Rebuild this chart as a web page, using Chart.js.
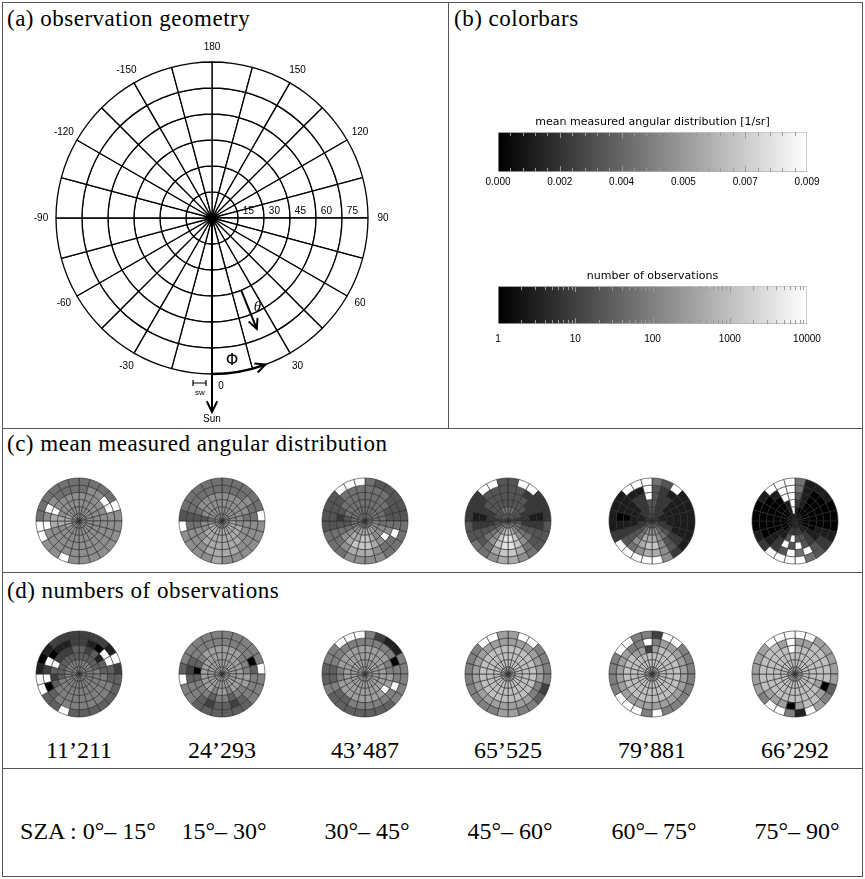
<!DOCTYPE html>
<html>
<head>
<meta charset="utf-8">
<title>Observation geometry and angular distributions</title>
<script src="https://cdn.jsdelivr.net/npm/chart.js@4.4.1/dist/chart.umd.min.js"></script>
<style>
  body { margin: 0; background: #fff; }
  #page { position: relative; width: 865px; height: 879px; overflow: hidden;
          font-family: "Liberation Serif", "DejaVu Serif", serif; color: #000; }
  .rule { position: absolute; background: #555; }
  .label { position: absolute; white-space: nowrap; line-height: 1; }
  .title { font-size: 23px; letter-spacing: 0.5px; }
  .big { font-size: 24px; transform: translate(-50%, -50%); }
  canvas { position: absolute; }
</style>
</head>
<body>
<div id="page">
  <div class="rule" style="left:2px;top:2px;width:861px;height:1px"></div>
  <div class="rule" style="left:2px;top:876px;width:861px;height:1px"></div>
  <div class="rule" style="left:2px;top:2px;width:1px;height:875px"></div>
  <div class="rule" style="left:862px;top:2px;width:1px;height:875px"></div>
  <div class="rule" style="left:448px;top:2px;width:1px;height:426px"></div>
  <div class="rule" style="left:2px;top:428px;width:861px;height:1px"></div>
  <div class="rule" style="left:2px;top:572px;width:861px;height:1px"></div>
  <div class="rule" style="left:2px;top:768px;width:861px;height:1px"></div>

  <div class="label title" style="left:7px;top:7px">(a) observation geometry</div>
  <div class="label title" style="left:454px;top:7px">(b) colorbars</div>
  <div class="label title" style="left:7px;top:432px">(c) mean measured angular distribution</div>
  <div class="label title" style="left:7px;top:579px">(d) numbers of observations</div>
</div>
<script>
// ---- data ----------------------------------------------------------------
const _ = null; // no observation in this cell (drawn white)

// viewing zenith rings (outer edge, deg) and their labels
const zenithRings = [90, 75, 60, 45, 30, 15];
const zenithLabels = ['15', '30', '45', '60', '75'];
const azimuthLabels = [180, 150, 120, 90, 60, 30, 0, -30, -60, -90, -120, -150];
const sectorWidthDeg = 15;      // azimuth bin width

// solar zenith angle bins and number of observations in each
const szaBins = [[0, 15], [15, 30], [30, 45], [45, 60], [60, 75], [75, 90]];
const obsTotals = [11211, 24293, 43487, 65525, 79881, 66292];

// colorbar ranges
const meanDistRange = [0, 0.009];
const obsRange = [1, 10000];

// (c) mean measured angular distribution, units of 0.001 1/sr
// rows: rings 75-90, 60-75, ... 0-15 ; columns: 15 deg sectors clockwise from 180
const meanDistSza00 = [
  [4,4,4,4,_,5, 5,5,5,5,5,5, 5,_,5,5,_,_, 4,4,4,4,4,4],
  [4,5,5,_,_,5, 5,5,5,5,5,5, 5,5,5,5,5,_, 5,_,5,4,4,4],
  [5,5,5,5,5,5, 5,5,5,5,5,5, 5,5,5,5,5,6, 6,_,5,5,5,5],
  [5,5,5,5,5,5, 5,5,5,5,5,5, 5,5,5,5,5,6, 6,5,5,5,5,5],
  [5,5,5,5,5,5, 5,5,5,5,5,5, 5,5,5,5,6,6, 6,6,5,5,5,5],
  [6,6,6,6,6,6, 6,6,6,6,6,6, 6,6,6,6,6,6, 6,6,6,6,6,6]
];
const meanDistSza15 = [
  [4,4,4,4,4,_, 5,5,5,5,5,5, 6,5,5,5,5,_, 3,4,4,4,4,4],
  [4,4,4,5,4,4, 5,5,5,5,6,6, 6,6,5,5,5,4, 3,4,4,4,4,4],
  [5,5,5,5,5,4, 5,5,5,6,6,6, 6,6,6,5,5,4, 3,4,5,5,5,5],
  [5,5,5,5,5,5, 5,6,6,6,6,6, 6,6,6,6,5,5, 3,5,5,5,5,5],
  [5,5,5,5,5,5, 6,6,6,6,6,6, 6,6,6,6,6,5, 4,5,5,5,5,5],
  [6,6,6,6,6,6, 6,6,6,6,6,6, 6,6,6,6,6,6, 6,6,6,6,6,6]
];
const meanDistSza30 = [
  [4,3,3,3,3,3, 4,4,4,4,5,5, 5,5,4,4,4,3, 3,3,3,_,_,_],
  [4,4,4,3,3,3, 4,_,4,4,5,6, 6,6,5,4,4,3, 3,3,3,4,4,4],
  [4,4,4,4,3,3, 4,5,_,5,6,7, 7,7,6,5,4,3, 2,3,4,4,4,4],
  [4,4,4,4,4,4, 4,5,5,5,6,7, 7,6,6,5,4,3, 3,4,4,4,4,4],
  [4,4,4,4,4,4, 5,5,5,6,6,6, 6,6,5,5,4,4, 4,4,4,4,4,4],
  [5,5,5,5,5,5, 5,5,5,5,5,5, 5,5,5,5,5,5, 5,5,5,5,5,5]
];
const meanDistSza45 = [
  [3,_,_,2,2,2, 3,3,3,4,5,6, 6,5,4,4,3,3, 2,2,2,_,_,3],
  [3,3,2,2,2,1, 2,3,3,4,6,7, 7,6,4,3,3,2, 1,2,2,3,3,3],
  [3,3,3,2,2,1, 2,3,4,5,7,8, 8,7,5,4,3,2, 1,2,3,3,3,3],
  [3,3,3,3,2,2, 2,3,4,5,7,8, 8,7,5,4,3,2, 2,2,3,3,3,3],
  [4,4,3,3,3,2, 3,4,4,5,6,7, 7,6,5,4,3,3, 2,3,3,3,4,4],
  [4,4,4,4,3,3, 3,4,5,5,6,6, 6,6,5,5,4,3, 3,3,4,4,4,4]
];
const meanDistSza60 = [
  [4,3,_,1,1,1, 1,1,1,2,5,_, _,_,_,_,2,1, 1,1,1,_,_,_],
  [3,2,1,1,1,1, 1,1,2,3,5,6, 6,5,4,3,2,1, 0,1,1,1,1,_],
  [3,2,2,1,1,1, 1,1,2,3,5,7, 7,6,5,3,2,1, 0,1,1,2,2,_],
  [3,2,2,1,1,1, 1,2,3,4,5,6, 6,6,4,3,2,1, 1,1,1,2,2,3],
  [3,2,2,2,1,1, 2,2,3,4,5,5, 5,5,4,3,2,2, 1,1,2,2,2,3],
  [3,3,2,2,2,2, 2,3,3,4,4,4, 4,4,4,3,3,2, 2,2,2,3,3,3]
];
const meanDistSza75 = [
  [4,1,1,1,0,0, 0,1,2,3,4,_, _,_,_,2,1,0, 0,0,1,_,_,_],
  [4,1,0,0,0,0, 0,1,2,3,_,4, _,3,2,1,0,0, 0,0,0,1,_,_],
  [3,1,0,0,0,0, 0,1,1,2,3,_, 3,_,2,1,0,0, 0,0,0,0,_,_],
  [2,1,0,0,0,0, 0,0,1,2,3,3, _,3,1,1,0,0, 0,0,0,0,1,_],
  [1,0,0,0,0,0, 0,0,1,1,2,2, 2,2,1,0,0,0, 0,0,0,0,1,_],
  [1,0,0,0,0,0, 0,0,0,1,1,1, 1,1,0,0,0,0, 0,0,0,0,0,1]
];

// (d) number of observations per cell, in half decades: count ~ 10^(level/2)
const obsSza00 = [
  [2,2,2,1,_,2, 3,3,3,3,3,3, 3,_,3,3,_,_, 1,0,1,2,2,2],
  [2,1,0,_,_,3, 3,4,4,4,4,4, 4,4,4,3,0,_, 2,_,0,1,1,2],
  [3,2,3,1,3,3, 4,4,4,4,4,4, 4,4,4,4,3,2, 3,_,2,2,2,3],
  [3,3,3,3,3,4, 4,4,4,4,4,4, 4,4,4,4,4,3, 3,3,3,3,3,3],
  [4,4,4,4,4,4, 4,4,4,4,4,4, 4,4,4,4,4,4, 4,4,4,4,4,4],
  [5,5,5,5,5,5, 5,5,5,5,5,5, 5,5,5,5,5,5, 5,5,5,5,5,5]
];
const obsSza15 = [
  [4,4,4,4,4,_, 4,4,4,3,3,3, 3,3,3,4,4,_, 3,4,4,4,4,4],
  [4,4,4,4,0,3, 4,4,4,3,2,3, 3,2,3,4,4,3, 2,3,4,4,4,4],
  [5,5,5,4,4,4, 5,5,4,4,3,4, 4,3,4,4,4,3, 0,3,4,5,5,5],
  [5,5,5,5,5,5, 5,5,5,5,4,5, 5,4,5,5,5,5, 5,5,5,5,5,5],
  [5,5,5,5,5,5, 5,5,5,5,5,5, 5,5,5,5,5,5, 5,5,5,5,5,5],
  [6,6,6,6,6,6, 6,6,6,6,6,6, 6,6,6,6,6,6, 6,6,6,6,6,6]
];
const obsSza30 = [
  [4,2,1,1,4,4, 4,4,4,3,3,3, 3,3,3,3,4,3, 3,4,4,_,_,_],
  [4,4,4,4,0,4, 4,_,4,4,4,4, 4,4,3,3,4,3, 3,4,4,4,4,4],
  [5,5,5,5,4,4, 5,5,_,5,5,5, 5,5,5,5,5,4, 4,5,5,5,5,5],
  [5,5,5,5,5,5, 5,5,5,5,5,5, 5,5,5,5,5,5, 5,5,5,5,5,5],
  [5,5,5,5,5,5, 5,5,5,5,5,5, 5,5,5,5,5,5, 5,5,5,5,5,5],
  [6,6,6,6,6,6, 6,6,6,6,6,6, 6,6,6,6,6,6, 6,6,6,6,6,6]
];
const obsSza45 = [
  [5,_,_,4,4,4, 4,2,3,4,4,5, 5,4,4,4,4,4, 4,4,4,_,_,5],
  [5,5,5,5,5,5, 5,4,4,5,5,5, 5,5,5,5,5,5, 5,5,5,5,5,5],
  [6,6,6,6,6,6, 6,6,6,6,6,6, 6,6,6,6,6,6, 6,6,6,6,6,6],
  [6,6,6,6,6,6, 6,6,6,6,6,6, 6,6,6,6,6,6, 6,6,6,6,6,6],
  [6,6,6,6,6,6, 6,6,6,6,6,6, 6,6,6,6,6,6, 6,6,6,6,6,6],
  [6,6,6,6,6,6, 6,6,6,6,6,6, 6,6,6,6,6,6, 6,6,6,6,6,6]
];
const obsSza60 = [
  [2,_,_,4,4,4, 4,4,4,4,4,_, 4,_,_,_,4,4, 4,4,_,_,4,4],
  [4,5,5,5,5,5, 5,5,5,5,5,5, 5,5,5,5,5,5, 5,5,5,4,4,_],
  [5,6,6,6,6,6, 6,6,6,6,6,6, 6,6,6,6,6,6, 6,6,6,5,5,2],
  [6,6,6,6,6,6, 6,6,6,6,6,6, 6,6,6,6,6,6, 6,6,6,6,6,6],
  [6,6,6,6,6,6, 6,6,6,6,6,6, 6,6,6,6,6,6, 6,6,6,6,6,6],
  [6,6,6,6,6,6, 6,6,6,6,6,6, 6,6,6,6,6,6, 6,6,6,6,6,6]
];
const obsSza75 = [
  [_,_,5,5,5,5, 5,3,4,5,_,1, 4,_,_,4,5,5, 5,5,5,_,_,_],
  [5,5,6,6,6,6, 6,0,5,6,6,5, 0,5,5,5,6,6, 6,6,6,6,5,_],
  [6,6,6,6,6,6, 6,5,6,6,6,6, 6,6,6,6,6,6, 6,6,6,6,6,_],
  [6,6,6,6,6,6, 6,6,6,6,6,6, 6,6,6,6,6,6, 6,6,6,6,6,6],
  [6,6,6,6,6,6, 6,6,6,6,6,6, 6,6,6,6,6,6, 6,6,6,6,6,6],
  [6,6,6,6,6,6, 6,6,6,6,6,6, 6,6,6,6,6,6, 6,6,6,6,6,6]
];

const meanDistPlots = [meanDistSza00, meanDistSza15, meanDistSza30, meanDistSza45, meanDistSza60, meanDistSza75];
const obsPlots = [obsSza00, obsSza15, obsSza30, obsSza45, obsSza60, obsSza75];

// ---- helpers -------------------------------------------------------------
Chart.defaults.color = '#000';
Chart.defaults.font.family = '"Liberation Sans", Arial, sans-serif';

const page = document.getElementById('page');

function addCanvas(left, top, w, h) {
  const c = document.createElement('canvas');
  c.width = w; c.height = h;
  c.style.left = left + 'px'; c.style.top = top + 'px';
  c.style.width = w + 'px'; c.style.height = h + 'px';
  page.appendChild(c);
  return c;
}

function addLabel(text, x, y, cls) {
  const d = document.createElement('div');
  d.className = 'label ' + cls;
  d.style.left = x + 'px'; d.style.top = y + 'px';
  d.textContent = text;
  page.appendChild(d);
}

function grey(g) {
  g = Math.round(Math.max(0, Math.min(255, g)));
  return 'rgb(' + g + ',' + g + ',' + g + ')';
}

// mean distribution in 0.001/sr -> colorbar grey
function meanDistColor(v) {
  if (v === null) return '#fff';
  return grey(v * 0.001 / meanDistRange[1] * 255);
}

// half-decade level -> log colorbar grey
function obsColor(level) {
  if (level === null) return '#fff';
  const count = Math.pow(10, level / 2);
  return grey(Math.log10(count) / Math.log10(obsRange[1]) * 255);
}

function arrowHead(ctx, x, y, dx, dy, size) {
  const a = Math.atan2(dy, dx);
  ctx.beginPath();
  ctx.moveTo(x - size * Math.cos(a - 0.45), y - size * Math.sin(a - 0.45));
  ctx.lineTo(x, y);
  ctx.lineTo(x - size * Math.cos(a + 0.45), y - size * Math.sin(a + 0.45));
  ctx.stroke();
}

const baseOpts = {
  responsive: false,
  animation: false,
  events: [],
  devicePixelRatio: 1,
  plugins: { legend: { display: false }, tooltip: { enabled: false } }
};

// ---- (a) observation geometry --------------------------------------------
const geometryOverlay = {
  id: 'geometryOverlay',
  afterDatasetsDraw(chart) {
    const ctx = chart.ctx;
    const arc = chart.getDatasetMeta(0).data[0];
    const cx = arc.x, cy = arc.y, R = arc.outerRadius;
    const step = R / zenithRings.length;
    const rad = Math.PI / 180;
    const pt = (phi, r) => [cx + r * Math.sin(phi * rad), cy + r * Math.cos(phi * rad)];

    ctx.save();
    ctx.fillStyle = '#000';
    ctx.strokeStyle = '#000';
    ctx.font = '10px "Liberation Sans"';
    ctx.textAlign = 'center';
    ctx.textBaseline = 'middle';
    azimuthLabels.forEach(phi => {
      if (phi === 0) { ctx.fillText('0', cx + 9, cy + R + 12); return; }
      const [x, y] = pt(phi, R + 15);
      ctx.fillText(String(phi), x, y);
    });
    zenithLabels.forEach((t, k) => ctx.fillText(t, cx + (k + 1.4) * step, cy - 7));

    // sun direction
    ctx.lineWidth = 2;
    ctx.beginPath();
    ctx.moveTo(cx, cy);
    ctx.lineTo(cx, cy + R + 38);
    ctx.stroke();
    arrowHead(ctx, cx, cy + R + 38, 0, 1, 12);
    ctx.fillText('Sun', cx, cy + R + 45);

    // sector width marker
    ctx.lineWidth = 1.2;
    ctx.beginPath();
    ctx.moveTo(cx - 19, cy + R + 9); ctx.lineTo(cx - 6, cy + R + 9);
    ctx.moveTo(cx - 19, cy + R + 6); ctx.lineTo(cx - 19, cy + R + 12);
    ctx.moveTo(cx - 6, cy + R + 6); ctx.lineTo(cx - 6, cy + R + 12);
    ctx.stroke();
    ctx.font = '8px "Liberation Sans"';
    ctx.fillText('sw', cx - 12, cy + R + 19);

    // viewing zenith arrow
    ctx.lineWidth = 2;
    const [t0x, t0y] = pt(22, 3 * step);
    const [t1x, t1y] = pt(22, 4.6 * step);
    ctx.beginPath(); ctx.moveTo(t0x, t0y); ctx.lineTo(t1x, t1y); ctx.stroke();
    arrowHead(ctx, t1x, t1y, t1x - t0x, t1y - t0y, 11);
    ctx.font = 'italic 15px "Liberation Serif"';
    const [thx, thy] = pt(27, 100);
    ctx.fillText('θ', thx, thy);

    // relative azimuth arrow
    ctx.lineWidth = 2.5;
    ctx.beginPath();
    ctx.arc(cx, cy, R, Math.PI / 2, Math.PI / 2 - 20 * rad, true);
    ctx.stroke();
    const [px, py] = pt(20, R);
    ctx.lineWidth = 2;
    arrowHead(ctx, px, py, Math.cos(20 * rad), -Math.sin(20 * rad), 11);
    ctx.font = '16px "DejaVu Sans"';
    const [fx, fy] = pt(8, R - 12);
    ctx.fillText('Φ', fx, fy);
    ctx.restore();
  }
};

new Chart(addCanvas(2, 8, 420, 420), {
  type: 'doughnut',
  data: {
    datasets: zenithRings.map(() => ({
      data: Array.from({ length: 360 / sectorWidthDeg }, () => sectorWidthDeg),
      backgroundColor: '#fff',
      borderColor: '#000',
      borderWidth: 1.3
    }))
  },
  options: Object.assign({}, baseOpts, { radius: 156, cutout: 0, rotation: 0 }),
  plugins: [geometryOverlay]
});

// ---- (b) colorbars -------------------------------------------------------
const colorbarTicks = {
  id: 'colorbarTicks',
  afterDatasetsDraw(chart) {
    const sx = chart.scales.x;
    const { top, bottom } = chart.chartArea;
    const ctx = chart.ctx;
    ctx.save();
    ctx.strokeStyle = '#9a9a9a';
    ctx.lineWidth = 1;
    sx.ticks.forEach((t, i) => {
      if (i === 0 || i === sx.ticks.length - 1) return;
      const x = Math.round(sx.getPixelForValue(t.value)) + 0.5;
      const len = t.label ? 6 : 4;
      ctx.beginPath();
      ctx.moveTo(x, top); ctx.lineTo(x, top + len);
      ctx.moveTo(x, bottom); ctx.lineTo(x, bottom - len);
      ctx.stroke();
    });
    ctx.restore();
  }
};

function greyGradient(context) {
  const chart = context.chart;
  const area = chart.chartArea;
  if (!area) return '#888';
  const g = chart.ctx.createLinearGradient(area.left, 0, area.right, 0);
  g.addColorStop(0, '#000');
  g.addColorStop(1, '#fff');
  return g;
}

function colorbar(canvas, range, title, xScale, pad) {
  return new Chart(canvas, {
    type: 'bar',
    data: {
      labels: [''],
      datasets: [{
        data: [range],
        backgroundColor: greyGradient,
        borderColor: '#b0b0b0',
        borderWidth: 1,
        borderSkipped: false,
        barPercentage: 1,
        categoryPercentage: 1
      }]
    },
    options: Object.assign({}, baseOpts, {
      indexAxis: 'y',
      layout: { padding: pad.layout },
      plugins: {
        legend: { display: false }, tooltip: { enabled: false },
        title: {
          display: true, text: title, color: '#000',
          font: { family: '"DejaVu Sans"', size: 11, weight: 'normal' },
          padding: pad.title
        }
      },
      scales: {
        x: xScale,
        y: { display: false }
      }
    }),
    plugins: [colorbarTicks]
  });
}

colorbar(addCanvas(455, 100, 400, 95), meanDistRange,
  'mean measured angular distribution [1/sr]',
  {
    type: 'linear', min: meanDistRange[0], max: meanDistRange[1],
    grid: { display: false, drawTicks: false }, border: { display: false },
    ticks: {
      stepSize: 0.00036, autoSkip: false, maxRotation: 0, padding: 4,
      font: { size: 10 },
      callback: (v, i) => (i % 5 === 0 ? v.toFixed(3) : '')
    }
  },
  { layout: { left: 43, right: 48, top: 0, bottom: 3 }, title: { top: 16, bottom: 3 } });

colorbar(addCanvas(455, 255, 400, 100), obsRange,
  'number of observations',
  {
    type: 'logarithmic', min: obsRange[0], max: obsRange[1],
    grid: { display: false, drawTicks: false }, border: { display: false },
    afterBuildTicks: scale => {
      const ticks = [];
      for (let dec = 1; dec < obsRange[1]; dec *= 10) {
        for (let m = 1; m < 10; m++) ticks.push({ value: m * dec });
      }
      ticks.push({ value: obsRange[1] });
      scale.ticks = ticks;
    },
    ticks: {
      autoSkip: false, maxRotation: 0, padding: 9,
      font: { size: 10 },
      callback: v => (Number.isInteger(Math.log10(v)) ? String(v) : '')
    }
  },
  { layout: { left: 43, right: 48, top: 0, bottom: 1 }, title: { top: 15, bottom: 3 } });

// ---- (c), (d) small polar plots -------------------------------------------
const colX = [79, 222, 365, 508, 652, 795];
const rowCY = [521, 674];

function polarCells(canvas, rings, toColor) {
  return new Chart(canvas, {
    type: 'doughnut',
    data: {
      datasets: rings.map(ring => ({
        data: ring.map(() => sectorWidthDeg),
        backgroundColor: ring.map(toColor),
        borderColor: '#2a2a2a',
        borderWidth: 0.6
      }))
    },
    options: Object.assign({}, baseOpts, { radius: 43, cutout: 0, rotation: 0 })
  });
}

meanDistPlots.forEach((rings, i) => {
  polarCells(addCanvas(colX[i] - 50, rowCY[0] - 50, 100, 100), rings, meanDistColor);
});
obsPlots.forEach((rings, i) => {
  polarCells(addCanvas(colX[i] - 50, rowCY[1] - 50, 100, 100), rings, obsColor);
});

// totals and SZA bins
const fmtTotal = n => Math.floor(n / 1000) + '’' + String(n % 1000).padStart(3, '0');
obsTotals.forEach((n, i) => addLabel(fmtTotal(n), colX[i], 750, 'big'));
szaBins.forEach(([a, b], i) => {
  const txt = (i === 0 ? 'SZA : ' : '') + a + '°– ' + b + '°';
  addLabel(txt, i === 0 ? 88 : colX[i] + 2, 831, 'big');
});
</script>
</body>
</html>
